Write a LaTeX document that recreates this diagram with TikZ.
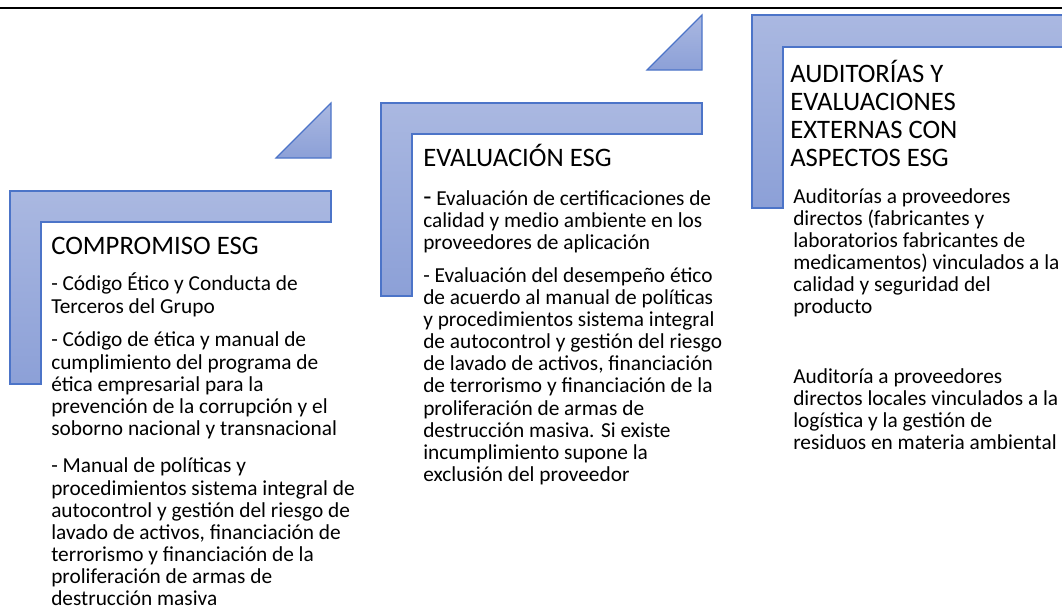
\documentclass[tikz,border=0pt]{standalone}
\usepackage{fontspec}
\setmainfont{Carlito}
\usepackage{tikz}
\usetikzlibrary{calc}
\definecolor{stepTop}{RGB}{170,184,225}
\definecolor{stepBot}{RGB}{140,160,215}
\definecolor{stepLine}{RGB}{76,116,200}
\tikzset{
  stepshape/.style={top color=stepTop, bottom color=stepBot,
                    draw=stepLine, line width=0.9pt, line join=miter},
  steptitle/.style={anchor=base west, inner sep=0pt, align=left,
                    font=\fontsize{20}{20.8}\selectfont},
  stepbody/.style={anchor=base west, inner sep=0pt, align=left,
                   font=\fontsize{16}{16.6}\selectfont},
}

\begin{document}
\begin{tikzpicture}[x=0.75pt,y=-0.75pt]
  \useasboundingbox (0,0) rectangle (1062,615);
  \clip (0,0) rectangle (1062,615);
  \draw[line width=1.5pt] (0,7.5)--(1062,7.5);
  % Compromiso (nodes sit on the baseline of their last line)
  \shade[stepshape] (10,191)--(331,191)--(331,222)--(41,222)--(41,384)--(10,384)--cycle;
  \shade[stepshape] (276,158)--(331,158)--(331,103)--cycle;
  \node[steptitle] (comp-title) at (51,254) {COMPROMISO ESG};
  \node[stepbody] (comp-a) at (51,313) {- Código Ético y Conducta de\\Terceros del Grupo};
  \node[stepbody] (comp-b) at (51,435.5) {- Código de ética y manual de\\cumplimiento del programa de\\ética empresarial para la\\prevención de la corrupción y el\\soborno nacional y transnacional};
  \node[stepbody] (comp-c) at (51,605.7) {- Manual de políticas y\\procedimientos sistema integral de\\autocontrol y gestión del riesgo de\\lavado de activos, financiación de\\terrorismo y financiación de la\\proliferación de armas de\\destrucción masiva};
  % Evaluacion
  \shade[stepshape] (381,103)--(702,103)--(702,134)--(412,134)--(412,296)--(381,296)--cycle;
  \shade[stepshape] (647,70)--(702,70)--(702,15)--cycle;
  \node[steptitle] (eval-title) at (423,166) {EVALUACIÓN ESG};
  \node[stepbody] (eval-a) at (423,249.3) {{\fontsize{20}{16}\selectfont -} Evaluación de certificaciones de\\calidad y medio ambiente en los\\proveedores de aplicación};
  \node[stepbody] (eval-b) at (423,481.5) {- Evaluación del desempeño ético\\de acuerdo al manual de políticas\\y procedimientos sistema integral\\de autocontrol y gestión del riesgo\\de lavado de activos, financiación\\de terrorismo y financiación de la\\proliferación de armas de\\destrucción masiva. Si existe\\incumplimiento supone la\\exclusión del proveedor};
  % Auditorias
  \shade[stepshape] (752,15)--(1080,15)--(1080,47)--(783,47)--(783,208)--(752,208)--cycle;
  \node[steptitle] (audi-title) at (790,166) {AUDITORÍAS Y\\EVALUACIONES\\EXTERNAS CON\\ASPECTOS ESG};
  \node[stepbody] (audi-a) at (793,313.7) {Auditorías a proveedores\\directos (fabricantes y\\laboratorios fabricantes de\\medicamentos) vinculados a la\\calidad y seguridad del\\producto};
  \node[stepbody] (audi-b) at (793,449.8) {Auditoría a proveedores\\directos locales vinculados a la\\logística y la gestión de\\residuos en materia ambiental};
\end{tikzpicture}
\end{document}
